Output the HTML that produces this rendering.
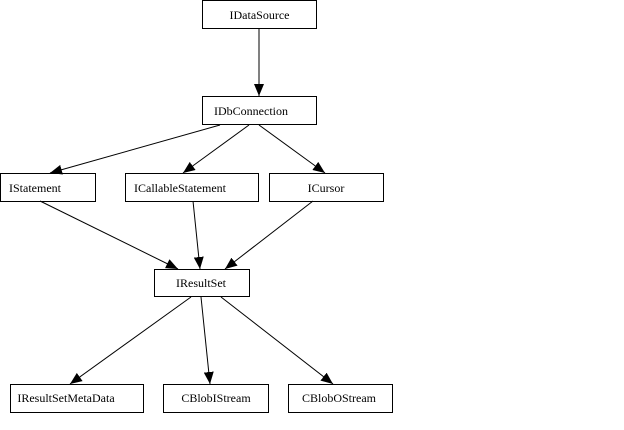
<!DOCTYPE html>
<html><head><style>
body{margin:0;background:#fff}
svg text{font-family:"Liberation Serif",serif;font-size:12px;fill:#000}
</style></head><body>
<svg width="624" height="425" xmlns="http://www.w3.org/2000/svg">
<defs><marker id="a" markerWidth="12" markerHeight="10" refX="12" refY="5" orient="auto" markerUnits="userSpaceOnUse"><path d="M0,0 L12,5 L0,10 z" fill="#000"/></marker></defs>
<g fill="#fff" stroke="#000" stroke-width="1">
<rect x="202.5" y="0.5" width="114" height="28"/>
<rect x="202.5" y="96.5" width="114" height="28"/>
<rect x="0.5" y="173.5" width="95" height="28"/>
<rect x="125.5" y="173.5" width="133" height="28"/>
<rect x="269.5" y="173.5" width="114" height="28"/>
<rect x="154.5" y="269.5" width="95" height="27"/>
<rect x="10.5" y="384.5" width="133" height="28"/>
<rect x="163.5" y="384.5" width="105" height="28"/>
<rect x="288.5" y="384.5" width="104" height="28"/>
</g>
<g stroke="#000" stroke-width="1" marker-end="url(#a)">
<line x1="259" y1="29" x2="259" y2="96"/>
<line x1="220" y1="125" x2="50" y2="173"/>
<line x1="249" y1="125" x2="183" y2="173"/>
<line x1="259" y1="125" x2="325" y2="173"/>
<line x1="40" y1="201" x2="178" y2="269"/>
<line x1="193" y1="201" x2="200" y2="269"/>
<line x1="313" y1="201" x2="225" y2="269"/>
<line x1="191" y1="297" x2="70" y2="384"/>
<line x1="201" y1="297" x2="210" y2="384"/>
<line x1="221" y1="297" x2="333" y2="384"/>
</g>
<g text-anchor="middle">
<text x="259.5" y="19">IDataSource</text>
<text x="251" y="115">IDbConnection</text>
<text x="9" y="192" text-anchor="start">IStatement</text>
<text x="180" y="192">ICallableStatement</text>
<text x="326" y="192">ICursor</text>
<text x="201" y="287">IResultSet</text>
<text x="66" y="402">IResultSetMetaData</text>
<text x="216" y="402">CBlobIStream</text>
<text x="339" y="402">CBlobOStream</text>
</g>
</svg>
</body></html>
